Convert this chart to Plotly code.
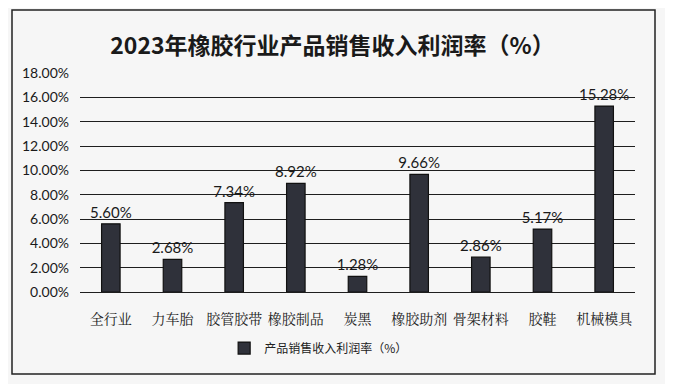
import plotly.graph_objects as go

categories = ["全行业", "力车胎", "胶管胶带", "橡胶制品", "炭黑", "橡胶助剂", "骨架材料", "胶鞋", "机械模具"]
margins_pct = [5.60, 2.68, 7.34, 8.92, 1.28, 9.66, 2.86, 5.17, 15.28]
y_ticks_pct = [0, 2, 4, 6, 8, 10, 12, 14, 16, 18]

# page has an 8px default body margin
W, H = 665, 376
L, R, T, B = 72, 38, 65, 92
pw, ph = W - L - R, H - T - B

def px(x):
    return (x - L) / pw

def py(y):
    return (H - B - y) / ph

fig = go.Figure()
fig.add_trace(go.Bar(
    x=categories,
    y=[v / 100 for v in margins_pct],
    name="产品销售收入利润率（%）",
    marker=dict(color="#2f313a", line=dict(color="#111111", width=1.2)),
    texttemplate="%{y:.2%}",
    textposition="outside",
    constraintext="none",
    textfont=dict(family="Lato, Liberation Sans, sans-serif", size=15, color="#1a1a1a"),
    cliponaxis=False,
))

fig.update_layout(
    width=W, height=H,
    margin=dict(l=L, r=R, t=T, b=B),
    paper_bgcolor="#f6f6f6",
    plot_bgcolor="#f6f6f6",
    bargap=0.7,
    title=dict(
        text="<b>2023年橡胶行业产品销售收入利润率（%）</b>",
        x=0.488, xanchor="center", y=0.90, yanchor="middle",
        font=dict(family="Noto Sans CJK SC", size=23, color="#1a1a1a"),
    ),
    showlegend=True,
    legend=dict(
        orientation="h", x=0.43, xanchor="center", y=-0.256, yanchor="middle",
        font=dict(family="Noto Sans CJK SC", size=12, color="#222222"),
        itemwidth=30, bgcolor="rgba(0,0,0,0)",
    ),
    xaxis=dict(
        showline=False, showgrid=False, ticks="",
        tickfont=dict(family="Noto Serif CJK SC, Noto Sans CJK SC", size=14, color="#222222"),
        ticklabelstandoff=17,
    ),
    yaxis=dict(
        range=[0, 0.18],
        tickvals=[v / 100 for v in y_ticks_pct],
        tickformat=".2%",
        showgrid=True, gridcolor="#1e1e1e", gridwidth=1.3,
        zeroline=True, zerolinecolor="#1e1e1e", zerolinewidth=1.3,
        showline=False, ticks="",
        tickfont=dict(family="Lato, Liberation Sans, sans-serif", size=14, color="#1a1a1a"),
        ticklabelstandoff=10,
    ),
)

fig.add_shape(
    type="rect", xref="paper", yref="paper",
    x0=px(4), x1=px(647), y0=py(2), y1=py(366),
    line=dict(color="#222222", width=1.5), fillcolor="rgba(0,0,0,0)", layer="below",
)

fig.write_html("out.html")
